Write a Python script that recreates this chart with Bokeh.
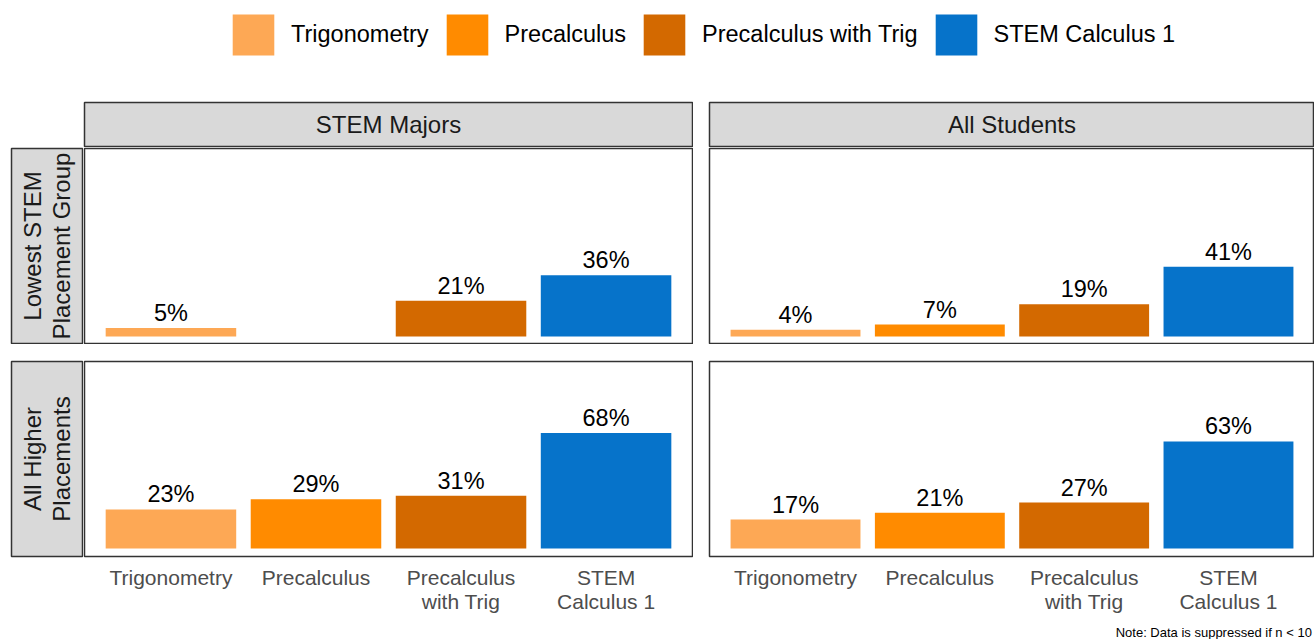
import math
from bokeh.plotting import figure
from bokeh.models import (ColumnDataSource, FactorRange, Range1d, Legend, LegendItem,
                          Spacer)
from bokeh.layouts import row, column
from bokeh.core.properties import value
from bokeh.embed import file_html
from bokeh.resources import INLINE

# ---------------- data ----------------
courses = ["Trigonometry", "Precalculus", "Precalculus with Trig", "STEM Calculus 1"]
axis_names = ["Trigonometry", "Precalculus", "Precalculus\nwith Trig", "STEM\nCalculus 1"]
colors = ["#FDA855", "#FF8B00", "#D36900", "#0673CA"]
col_groups = ["STEM Majors", "All Students"]
row_groups = ["Lowest STEM\nPlacement Group", "All Higher\nPlacements"]
stem_lowest = [5, None, 21, 36]      # Precalculus suppressed (n < 10)
stem_higher = [23, 29, 31, 68]
all_lowest = [4, 7, 19, 41]
all_higher = [17, 21, 27, 63]
note_text = "Note: Data is suppressed if n < 10"

FONT = "Liberation Sans"
BORDER = "#333333"
STRIP_FILL = "#d9d9d9"

W_STRIP, W_C1, W_GAP, W_C2 = 83, 610, 15, 606
W_ALL = W_STRIP + W_C1 + W_GAP + W_C2
H_LEG, H_TOP, H_R1, H_SP, H_R2, H_NOTE = 101, 46, 197, 16, 262, 17
BOTTOM_BORDER = H_R2 - 196
PX_PER_UNIT = 1.70
LABEL_GAP_PX = 15


def base_fig(w, h, **kw):
    p = figure(width=w, height=h, output_backend="svg", toolbar_location=None, **kw)
    p.outline_line_color = BORDER
    p.outline_line_width = 1.5
    p.border_fill_color = "white"
    return p


def panel(vals, w, h, y_rng, bottom_axis, right=1):
    p = base_fig(w, h,
                 x_range=FactorRange(*axis_names, range_padding=0.048),
                 y_range=Range1d(*y_rng),
                 x_axis_location="below" if bottom_axis else None,
                 y_axis_location=None,
                 min_border_left=1, min_border_right=right, min_border_top=1,
                 min_border_bottom=BOTTOM_BORDER if bottom_axis else 1)
    p.background_fill_color = "white"
    p.grid.grid_line_color = None
    xs, ys, ly, cs, ls = [], [], [], [], []
    for c, v, col in zip(axis_names, vals, colors):
        if v is None:
            continue
        xs.append(c); ys.append(v); cs.append(col); ls.append(f"{v}%")
        ly.append(v + LABEL_GAP_PX / PX_PER_UNIT)
    src = ColumnDataSource(dict(course=xs, value=ys, label_y=ly, color=cs, label=ls))
    p.vbar(x="course", top="value", bottom=0, width=0.9, fill_color="color",
           line_color=None, source=src)
    p.text(x="course", y="label_y", text="label", source=src, text_align="center",
           text_baseline="alphabetic", text_font=value(FONT),
           text_font_size="23.5px", text_color="black")
    if bottom_axis:
        ax = p.xaxis[0]
        ax.axis_line_color = None
        ax.major_tick_line_color = None
        ax.minor_tick_line_color = None
        ax.major_label_text_font = FONT
        ax.major_label_text_font_size = "21px"
        ax.major_label_text_color = "#4d4d4d"
        ax.major_label_standoff = 3
        ax.major_label_text_line_height = 1.05
    return p


def strip(text, w, h, vertical=False, **borders):
    s = base_fig(w, h, x_range=Range1d(0, 1), y_range=Range1d(0, 1),
                 x_axis_location=None, y_axis_location=None, **borders)
    s.background_fill_color = STRIP_FILL
    s.grid.grid_line_color = None
    s.text(x=[0.5], y=[0.5], text=[text], angle=math.pi / 2 if vertical else 0,
           text_align="center", text_baseline="middle", text_font=value(FONT),
           text_font_size="24px", text_color="#1a1a1a", text_line_height=1.05)
    return s


# ---------------- legend ----------------
lg = figure(width=W_ALL, height=H_LEG, output_backend="svg",
            toolbar_location=None, x_axis_location=None, y_axis_location=None,
            x_range=Range1d(0, 1), y_range=Range1d(0, 1), min_border=0)
lg.outline_line_color = None
lg.grid.grid_line_color = None
items = []
for c, col in zip(courses, colors):
    # renderer kept outside the visible range: only its legend swatch shows
    r = lg.vbar(x=[5], top=[1], width=0.9, fill_color=col, line_color=None)
    items.append(LegendItem(label=c, renderers=[r]))
legend = Legend(items=items, orientation="horizontal", location=(227, 41),
                glyph_width=52, glyph_height=51, label_standoff=12, spacing=12,
                padding=0, margin=0, border_line_color=None,
                background_fill_alpha=0, label_text_font=FONT,
                label_text_font_size="23.5px", label_text_color="black")
lg.add_layout(legend)

# ---------------- strips ----------------
top1 = strip(col_groups[0], W_C1, H_TOP, min_border=1)
top2 = strip(col_groups[1], W_C2, H_TOP, min_border_left=1, min_border_right=0,
             min_border_top=1, min_border_bottom=1)
rs1 = strip(row_groups[0], W_STRIP, H_R1, vertical=True, min_border_left=11,
            min_border_right=1, min_border_top=1, min_border_bottom=1)
rs2 = strip(row_groups[1], W_STRIP, H_R2, vertical=True, min_border_left=11,
            min_border_right=1, min_border_top=1, min_border_bottom=BOTTOM_BORDER)

# ---------------- panels ----------------
r1_range = (-(7 / PX_PER_UNIT), 188 / PX_PER_UNIT)
r2_range = (-(8 / PX_PER_UNIT), 187 / PX_PER_UNIT)
p11 = panel(stem_lowest, W_C1, H_R1, r1_range, False)
p12 = panel(all_lowest, W_C2, H_R1, r1_range, False, right=0)
p21 = panel(stem_higher, W_C1, H_R2, r2_range, True)
p22 = panel(all_higher, W_C2, H_R2, r2_range, True, right=0)

# ---------------- note ----------------
nf = figure(width=W_ALL, height=H_NOTE, output_backend="svg", toolbar_location=None,
            x_axis_location=None, y_axis_location=None,
            x_range=Range1d(0, 1), y_range=Range1d(0, 1), min_border=0)
nf.outline_line_color = None
nf.grid.grid_line_color = None
nf.text(x=[0.998], y=[0.41], text=[note_text], text_align="right",
        text_baseline="middle", text_font=value(FONT), text_font_size="13px",
        text_color="black")

layout = column(
    lg,
    row(Spacer(width=W_STRIP, height=H_TOP), top1, Spacer(width=W_GAP, height=H_TOP), top2),
    row(rs1, p11, Spacer(width=W_GAP, height=H_R1), p12),
    Spacer(width=10, height=H_SP),
    row(rs2, p21, Spacer(width=W_GAP, height=H_R2), p22),
    nf,
)

open("out.html", "w").write(file_html(layout, INLINE, title="Course success"))
